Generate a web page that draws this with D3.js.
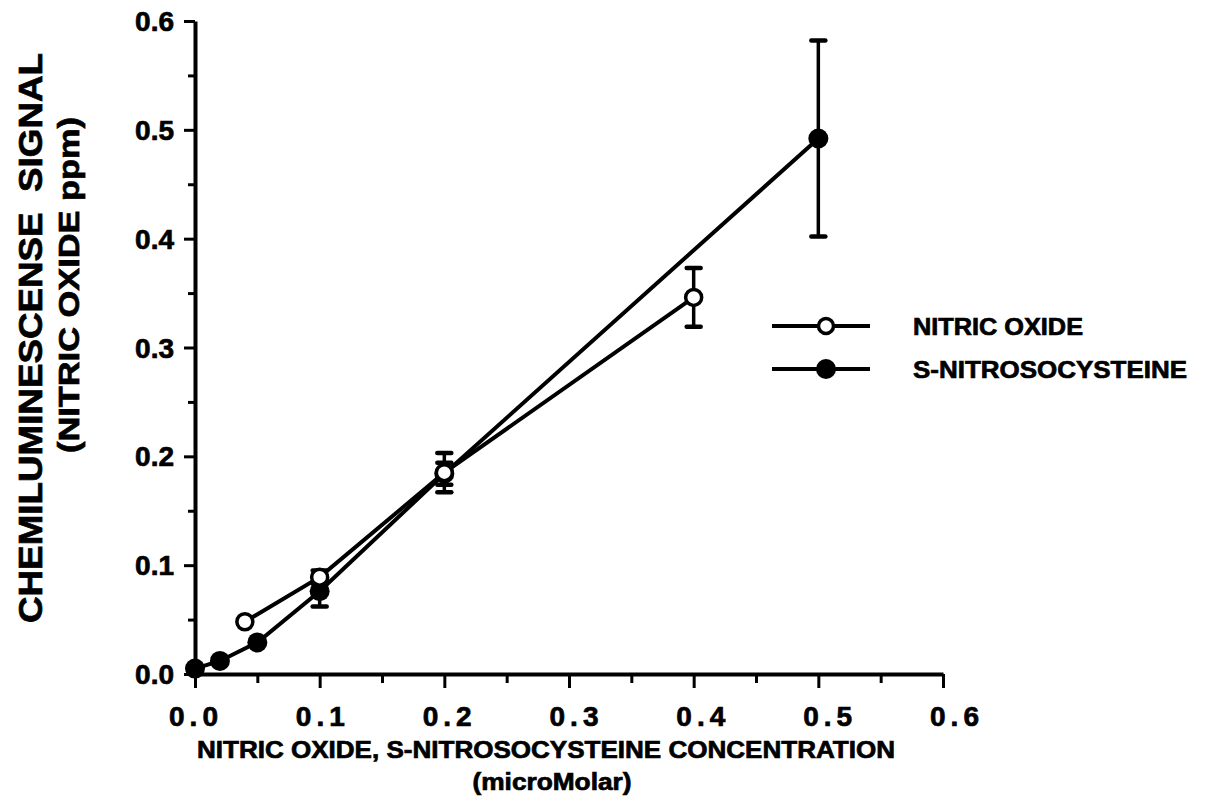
<!DOCTYPE html>
<html>
<head>
<meta charset="utf-8">
<script src="https://cdn.jsdelivr.net/npm/d3@7"></script>
<style>
  body { margin: 0; background: #fff; }
  svg text { font-family: "Liberation Sans", Arial, sans-serif; font-weight: bold; fill: #000; stroke: #000; stroke-width: 0.7px; }
</style>
</head>
<body>
<div id="chart"></div>
<script>
const width = 1208;
const height = 809;

// nitric oxide (open circles)
const noConc = [0.04, 0.1, 0.2, 0.4];
const noSignal = [0.048, 0.089, 0.185, 0.346];
const noErr = [0, 0.006, 0.018, 0.027];

// s-nitrosocysteine (filled circles)
const snoConc = [0.0, 0.02, 0.05, 0.1, 0.2, 0.5];
const snoSignal = [0.005, 0.012, 0.029, 0.076, 0.184, 0.492];
const snoErr = [0, 0, 0, 0.014, 0.01, 0.09];

const xTicks = [0.0, 0.1, 0.2, 0.3, 0.4, 0.5, 0.6];
const yTicks = [0.0, 0.1, 0.2, 0.3, 0.4, 0.5, 0.6];

const legendNames = ["NITRIC OXIDE", "S-NITROSOCYSTEINE"];

const x = d3.scaleLinear().domain([0, 0.6]).range([195, 943]);
const y = d3.scaleLinear().domain([0, 0.6]).range([674, 21]);
// tick labels in the scan drift a little right of their ticks
const xLabel = d3.scaleLinear().domain([0, 0.6]).range([194, 955]);

const svg = d3.select("#chart").append("svg")
    .attr("width", width)
    .attr("height", height);

const sw = 4; // stroke width for most lines

// x axis
const xAxis = d3.axisBottom(x)
    .tickValues(d3.range(0, 0.6001, 0.05))
    .tickSize(0)
    .tickFormat("");
const gx = svg.append("g").attr("transform", `translate(0,${y(0)})`).call(xAxis);
gx.select(".domain").attr("stroke", "#000").attr("stroke-width", sw);
gx.selectAll(".tick line").remove();
gx.selectAll(".tick").append("line")
    .attr("y1", 0)
    .attr("y2", (d, i) => i % 2 === 0 ? 14 : 9)
    .attr("stroke", "#000")
    .attr("stroke-width", 3);

svg.append("g").selectAll("text")
    .data(xTicks)
    .enter()
    .append("text")
    .attr("x", d => xLabel(d) + 2)
    .attr("y", 726)
    .attr("text-anchor", "middle")
    .attr("font-size", 28)
    .attr("letter-spacing", 5)
    .text(d => d.toFixed(1));

// y axis
const yAxis = d3.axisLeft(y)
    .tickValues(d3.range(0, 0.6001, 0.05))
    .tickSize(0)
    .tickFormat("");
const gy = svg.append("g").attr("transform", `translate(${x(0)},0)`).call(yAxis);
gy.select(".domain").attr("stroke", "#000").attr("stroke-width", sw);
gy.selectAll(".tick line").remove();
gy.selectAll(".tick").append("line")
    .attr("x1", 0)
    .attr("x2", (d, i) => i % 2 === 0 ? -11 : -7)
    .attr("stroke", "#000")
    .attr("stroke-width", 3);

svg.append("g").selectAll("text")
    .data(yTicks)
    .enter()
    .append("text")
    .attr("x", 174)
    .attr("y", d => y(d) + 10)
    .attr("text-anchor", "end")
    .attr("font-size", 28)
    .text(d => d.toFixed(1));

// axis titles
svg.append("text")
    .attr("x", 546).attr("y", 758)
    .attr("text-anchor", "middle")
    .attr("font-size", 24)
    .attr("textLength", 698)
    .attr("lengthAdjust", "spacingAndGlyphs")
    .text("NITRIC OXIDE, S-NITROSOCYSTEINE CONCENTRATION");
svg.append("text")
    .attr("x", 552).attr("y", 790)
    .attr("text-anchor", "middle")
    .attr("font-size", 23)
    .attr("textLength", 159)
    .attr("lengthAdjust", "spacingAndGlyphs")
    .text("(microMolar)");

svg.append("text")
    .attr("transform", "translate(42,338) rotate(-90)")
    .attr("text-anchor", "middle")
    .attr("font-size", 33)
    .attr("textLength", 570)
    .attr("lengthAdjust", "spacingAndGlyphs")
    .attr("xml:space", "preserve")
    .text("CHEMILUMINESCENSE  SIGNAL");
svg.append("text")
    .attr("transform", "translate(79,285) rotate(-90)")
    .attr("text-anchor", "middle")
    .attr("font-size", 29)
    .attr("textLength", 336)
    .attr("lengthAdjust", "spacingAndGlyphs")
    .text("(NITRIC OXIDE ppm)");

// series
const noData = noConc.map((c, i) => ({ c, v: noSignal[i], e: noErr[i] }));
const snoData = snoConc.map((c, i) => ({ c, v: snoSignal[i], e: snoErr[i] }));

const line = d3.line().x(d => x(d.c)).y(d => y(d.v));

function drawErrors(data) {
    const g = svg.append("g");
    const withErr = data.filter(d => d.e > 0);
    g.selectAll("line.bar")
        .data(withErr)
        .enter()
        .append("line")
        .attr("x1", d => x(d.c)).attr("x2", d => x(d.c))
        .attr("y1", d => y(d.v + d.e)).attr("y2", d => y(d.v - d.e))
        .attr("stroke", "#000").attr("stroke-width", 3.5);
    [1, -1].forEach(s => {
        g.selectAll("line.cap" + s)
            .data(withErr)
            .enter()
            .append("line")
            .attr("x1", d => x(d.c) - 7).attr("x2", d => x(d.c) + 7)
            .attr("y1", d => y(d.v + s * d.e)).attr("y2", d => y(d.v + s * d.e))
            .attr("stroke", "#000").attr("stroke-width", 4.5)
            .attr("stroke-linecap", "round");
    });
}

svg.append("path").datum(snoData)
    .attr("d", line).attr("fill", "none")
    .attr("stroke", "#000").attr("stroke-width", sw);
svg.append("path").datum(noData)
    .attr("d", line).attr("fill", "none")
    .attr("stroke", "#000").attr("stroke-width", sw);

drawErrors(snoData);
drawErrors(noData);

svg.append("g").selectAll("circle")
    .data(snoData)
    .enter()
    .append("circle")
    .attr("cx", d => x(d.c)).attr("cy", d => y(d.v))
    .attr("r", 10).attr("fill", "#000");

svg.append("g").selectAll("circle")
    .data(noData)
    .enter()
    .append("circle")
    .attr("cx", d => x(d.c)).attr("cy", d => y(d.v))
    .attr("r", 8).attr("fill", "#fff")
    .attr("stroke", "#000").attr("stroke-width", 3.5);

// legend
const legend = svg.append("g");
legendNames.forEach((name, i) => {
    const ly = 326 + i * 43;
    legend.append("line")
        .attr("x1", 772).attr("x2", 870)
        .attr("y1", ly).attr("y2", ly)
        .attr("stroke", "#000").attr("stroke-width", sw);
    legend.append("circle")
        .attr("cx", 826).attr("cy", ly)
        .attr("r", i === 0 ? 7.5 : 10)
        .attr("fill", i === 0 ? "#fff" : "#000")
        .attr("stroke", "#000").attr("stroke-width", i === 0 ? 3.5 : 0);
    legend.append("text")
        .attr("x", 913)
        .attr("y", ly + 9)
        .attr("font-size", 24)
        .attr("textLength", i === 0 ? 170 : 274)
        .attr("lengthAdjust", "spacingAndGlyphs")
        .text(name);
});
</script>
</body>
</html>
